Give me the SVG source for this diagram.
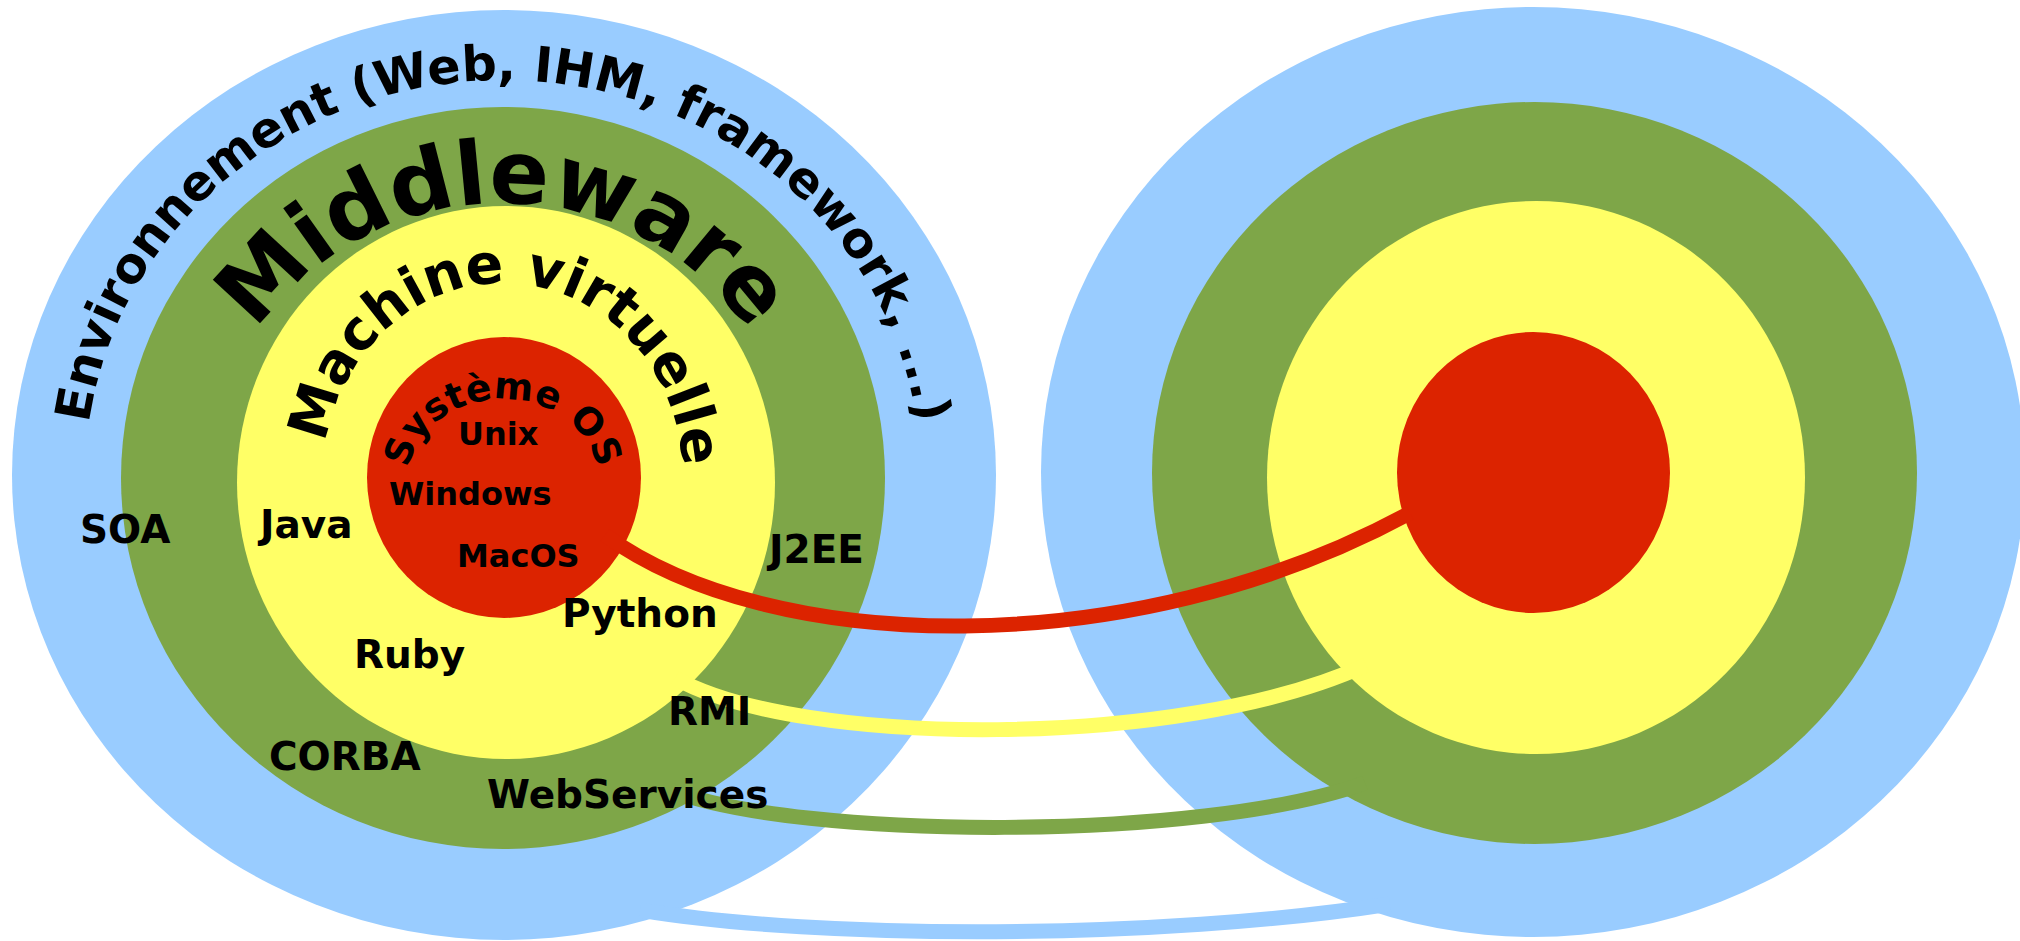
<svg xmlns="http://www.w3.org/2000/svg" width="2020" height="941" viewBox="0 0 2020 941">
<style>
.env{fill:#99ccff}
.mid{fill:#7ea648}
.vm{fill:#ffff66}
.os{fill:#dc2300}
.lnk{fill:none;stroke-width:15;stroke-linecap:butt}
text{font-family:"DejaVu Sans","Liberation Sans",sans-serif;font-weight:bold;fill:#000}
.lbl{font-size:39px}
.oslbl{font-size:32px}
</style>
<defs>
<path id="pEnv" d="M 89.8 537 A 418 397 0 1 1 916.2 537"/>
<path id="pMid" d="M 213 477 A 290 274 0 0 1 793 477"/>
<path id="pVm" d="M 325.8 443 A 180 194 0 0 1 683 477 A 180 194 0 0 1 600 640"/>
<path id="pOs" d="M 408 479 A 95 80 0 0 1 598 479"/>
</defs>
<rect width="2020" height="941" fill="#ffffff"/>
<g id="left-env"><ellipse class="env" cx="504" cy="475" rx="492" ry="465"/></g>
<g id="left-middleware"><ellipse class="mid" cx="503" cy="478" rx="382" ry="371"/></g>
<g id="left-vm"><ellipse class="vm" cx="506" cy="482.5" rx="269" ry="276.5"/></g>
<g id="left-os"><ellipse class="os" cx="504" cy="477.5" rx="137" ry="140.5"/></g>
<g id="right-env"><ellipse class="env" cx="1533" cy="472" rx="492" ry="465"/></g>
<g id="right-middleware"><ellipse class="mid" cx="1534.5" cy="473" rx="382.5" ry="371"/></g>
<g id="right-vm"><ellipse class="vm" cx="1536" cy="477.5" rx="269" ry="276.5"/></g>
<g id="right-os"><ellipse class="os" cx="1533.5" cy="472.5" rx="136.5" ry="140.5"/></g>
<g id="connectors">
<path class="lnk" stroke="#99ccff" d="M 640 910 C 820 940, 1160 940, 1390 904"/>
<path class="lnk" stroke="#7ea648" d="M 670 790 C 800 840, 1200 842, 1365 783"/>
<path class="lnk" stroke="#ffff66" d="M 675 678 C 800 748, 1180 750, 1366 665"/>
<path class="lnk" stroke="#dc2300" d="M 605 535 C 770 655, 1130 665, 1410 513"/>
</g>
<g id="labels">
<text style="font-size:49px"><textPath href="#pEnv" startOffset="50%" text-anchor="middle">Environnement (Web, IHM, framework, ...)</textPath></text>
<text style="font-size:88px"><textPath href="#pMid" startOffset="50%" text-anchor="middle">Middleware</textPath></text>
<text style="font-size:55.5px"><textPath href="#pVm">Machine virtuelle</textPath></text>
<text style="font-size:37.5px"><textPath href="#pOs" startOffset="50%" text-anchor="middle">Système OS</textPath></text>
<text class="oslbl" x="458" y="445">Unix</text>
<text class="oslbl" x="389" y="505">Windows</text>
<text class="oslbl" x="457" y="567">MacOS</text>
<text class="lbl" x="80" y="543">SOA</text>
<text class="lbl" x="260" y="538">Java</text>
<text class="lbl" x="769" y="563">J2EE</text>
<text class="lbl" x="562" y="627">Python</text>
<text class="lbl" x="354" y="668">Ruby</text>
<text class="lbl" x="668" y="725">RMI</text>
<text class="lbl" x="269" y="770">CORBA</text>
<text class="lbl" x="487" y="808">WebServices</text>
</g>
</svg>
